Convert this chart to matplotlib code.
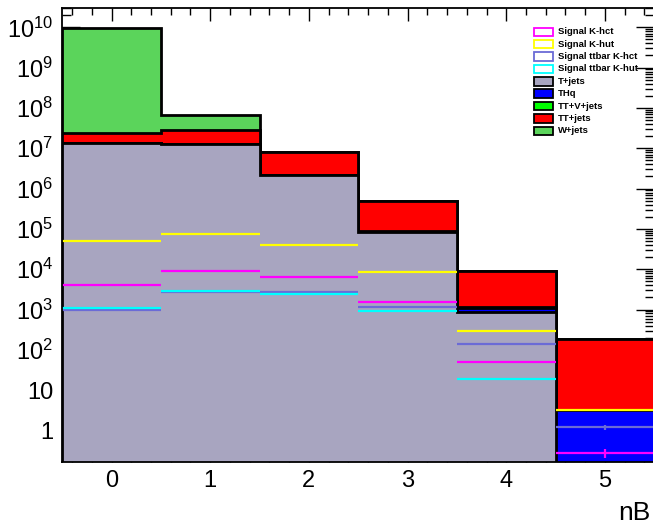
import numpy as np
import matplotlib
matplotlib.use("Agg")
import matplotlib.pyplot as plt
from matplotlib.patches import Rectangle
from matplotlib.ticker import FixedLocator, FuncFormatter, LogLocator, MultipleLocator

plt.rcParams['font.family'] = ['Liberation Sans', 'DejaVu Sans']
plt.rcParams['mathtext.fontset'] = 'custom'
plt.rcParams['mathtext.rm'] = 'Liberation Sans'
plt.rcParams['mathtext.default'] = 'regular'

# aantal b-jets per bin
bins = [0, 1, 2, 3, 4, 5]

# achtergronden, van onder naar boven gestapeld
t_jets = [1.32e7, 1.27e7, 2.16e6, 8.5e4, 8.8e2, 0]
thq = [3e3, 2.5e3, 8e2, 1.5e2, 2.4e2, 3.2]
ttv_jets = [4e4, 3.5e4, 1.2e4, 1.5e3, 30, 0]
tt_jets = [1.006e7, 1.53e7, 5.88e6, 4.03e5, 7.95e3, 187]
w_jets = [9.48e9, 3.8e7, 0, 0, 0, 0]

# signalen (niet gestapeld)
sig_khct = [4.1e3, 9.1e3, 6.5e3, 1.5e3, 51, 0.28]
sig_khut = [5.0e4, 7.4e4, 4.0e4, 8.5e3, 3.0e2, 3.2]
sig_tt_khct = [9.5e2, 2.7e3, 2.66e3, 1.17e3, 1.44e2, 1.23]
sig_tt_khut = [1.07e3, 2.96e3, 2.45e3, 9.3e2, 19, 0]
# foutjes in de laatste bin
err_last = {'khct': 0.07, 'khut': 0.15, 'tt_khct': 0.18}

stack = [('T+jets', t_jets, '#a8a5c0'),
         ('THq', thq, '#0000ff'),
         ('TT+V+jets', ttv_jets, '#00ff00'),
         ('TT+jets', tt_jets, '#ff0000'),
         ('W+jets', w_jets, '#5bd45b')]
signals = [('Signal K-hct', sig_khct, '#ff00ff', 'khct'),
           ('Signal K-hut', sig_khut, '#ffff00', 'khut'),
           ('Signal ttbar K-hct', sig_tt_khct, '#6b6bd6', 'tt_khct'),
           ('Signal ttbar K-hut', sig_tt_khut, '#00ffff', 'tt_khut')]

W, H = 653, 525
fig = plt.figure(figsize=(W / 100, H / 100), dpi=100)
ax = fig.add_axes([62.2 / W, 1 - 462 / H, (654.3 - 62.2) / W, (462 - 7.5) / H])

x = np.array(bins, dtype=float)
edges = np.append(x - 0.5, x[-1] + 0.5)
bodem = 1e-3

cum = np.cumsum([np.array(s[1], dtype=float) for s in stack], axis=0)
z = 2
for i in range(len(stack) - 1, -1, -1):
    top = np.maximum(cum[i], bodem)
    ax.stairs(top, edges, baseline=bodem, fill=True, color=stack[i][2], zorder=z)
    ax.stairs(top, edges, baseline=bodem, fill=False, color='k', lw=2.0, zorder=z + 1)
    z += 2

for naam, vals, kleur, key in signals:
    vals = np.array(vals, dtype=float)
    m = vals > 0
    ax.hlines(vals[m], (x - 0.5)[m], (x + 0.5)[m], colors=kleur, lw=1.6, zorder=z)
    if key in err_last:
        ax.vlines(x[-1], vals[-1] - err_last[key], vals[-1] + err_last[key],
                  colors=kleur, lw=1.6, zorder=z)

ax.set_yscale('log')
ax.set_xlim(edges[0], edges[-1])
ax.set_ylim(0.166, 3.1e10)

ax.yaxis.set_major_locator(FixedLocator([10.0 ** k for k in range(0, 11)]))
ax.yaxis.set_minor_locator(LogLocator(base=10, subs=np.arange(2, 10), numticks=30))


def ylabel_fmt(v, pos):
    k = int(round(np.log10(v)))
    if k == 0:
        return '1'
    if k == 1:
        return '10'
    return r'$10^{%d}$' % k


ax.yaxis.set_major_formatter(FuncFormatter(ylabel_fmt))
ax.xaxis.set_major_locator(FixedLocator(bins))
ax.xaxis.set_minor_locator(MultipleLocator(0.2))

ax.tick_params(axis='both', which='both', direction='in', top=True, right=True,
               labelsize=17, width=1.0, colors='k')
ax.tick_params(axis='y', which='major', length=13, pad=6.5)
ax.tick_params(axis='y', which='minor', length=6.5)
ax.tick_params(axis='x', which='major', length=9.5, pad=6)
ax.tick_params(axis='x', which='minor', length=5)
for sp in ax.spines.values():
    sp.set_linewidth(1.3)
    sp.set_zorder(50)

fig.text(618 / W, 1 - 520 / H, 'nB', fontsize=19, ha='left', va='baseline')

# legenda
legenda = [(n, k, False) for n, v, k, key in signals] + [(n, k, True) for n, v, k in stack]
for i, (naam, kleur, gevuld) in enumerate(legenda):
    yc = 31.7 + i * 12.4
    if gevuld:
        r = Rectangle((534 / W, 1 - (yc + 4.2) / H), 19 / W, 8.4 / H, transform=fig.transFigure,
                      facecolor=kleur, edgecolor='k', lw=1.3, zorder=60)
    else:
        r = Rectangle((534 / W, 1 - (yc + 4.2) / H), 19 / W, 8.4 / H, transform=fig.transFigure,
                      facecolor='white', edgecolor=kleur, lw=1.3, zorder=60)
    fig.patches.append(r)
    fig.text(558 / W, 1 - yc / H, naam, fontsize=6.8, fontweight='bold', ha='left', va='center')

fig.savefig('out.png', dpi=100)
